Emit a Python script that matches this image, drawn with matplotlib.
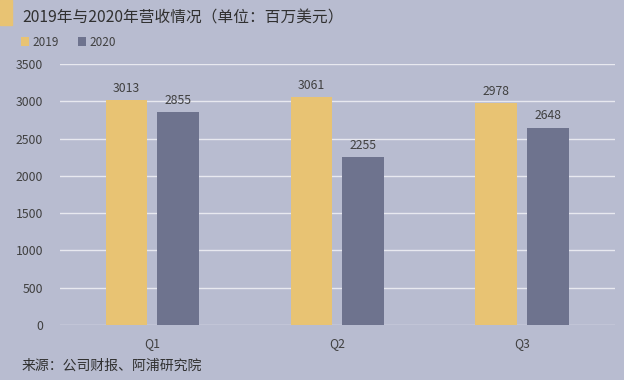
import numpy as np
import matplotlib.pyplot as plt
from matplotlib.patches import Rectangle

plt.rcParams['font.family'] = ['Noto Sans CJK SC', 'DejaVu Sans']

quarters = ['Q1', 'Q2', 'Q3']
rev_2019 = [3013, 3061, 2978]
rev_2020 = [2855, 2255, 2648]

bg = '#b8bcd0'
c2019 = '#e8c373'
c2020 = '#6e738e'
txt = '#404040'

fig = plt.figure(figsize=(6.24, 3.8), dpi=100, facecolor=bg)
ax = fig.add_axes([0.096, 0.1447, 0.8894, 0.6869], facecolor=bg)

x = np.arange(len(quarters))
w = 0.227
off = 0.14
b1 = ax.bar(x - off, rev_2019, w, color=c2019, label='2019', zorder=3)
b2 = ax.bar(x + off, rev_2020, w, color=c2020, label='2020', zorder=3)

for bars in (b1, b2):
    for r in bars:
        ax.text(r.get_x() + r.get_width() / 2, r.get_height() + 70, str(int(r.get_height())),
                ha='center', va='bottom', fontsize=8.8, color=txt)

ax.set_xlim(-0.5, 2.5)
ax.set_ylim(0, 3500)
ax.set_yticks(range(0, 3501, 500))
ax.set_xticks(x)
ax.set_xticklabels(quarters)
ax.yaxis.grid(True, color='#e8e9f0', linewidth=1, zorder=0)
ax.tick_params(axis='both', length=0, labelsize=8.8, colors=txt, pad=9)
ax.tick_params(axis='y', pad=12)
for s in ax.spines.values():
    s.set_visible(False)

# header
fig.patches.append(Rectangle((0, 1 - 25 / 380), 12 / 624, 25 / 380, transform=fig.transFigure,
                             color=c2019, zorder=5))
fig.text(22 / 624, 1 - 18 / 380, '2019年与2020年营收情况（单位：百万美元）',
         fontsize=11.3, color='#303030', va='center', ha='left')

leg = fig.legend(handles=[b1, b2], loc='center left', bbox_to_anchor=(10 / 624, 1 - 42 / 380),
                 ncol=2, frameon=False, fontsize=8.5, handlelength=0.7, handleheight=0.7,
                 handletextpad=0.3, columnspacing=1.6, labelcolor=txt)

fig.text(22 / 624, 1 - 366 / 380, '来源：公司财报、阿浦研究院',
         fontsize=10, color='#303030', va='center', ha='left')

fig.savefig('out.png', dpi=100, facecolor=bg)
